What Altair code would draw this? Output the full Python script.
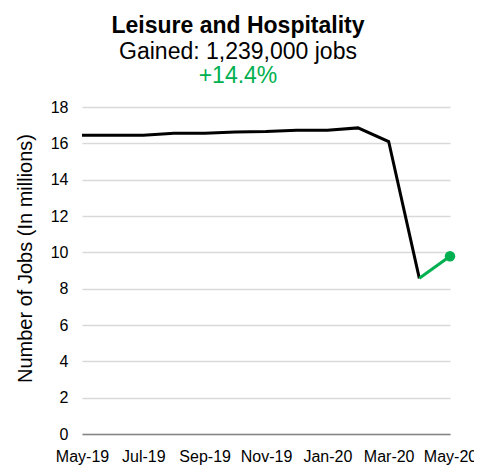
import altair as alt
import pandas as pd

months = ["May-19", "Jun-19", "Jul-19", "Aug-19", "Sep-19", "Oct-19", "Nov-19",
          "Dec-19", "Jan-20", "Feb-20", "Mar-20", "Apr-20", "May-20"]
jobs = [16.45, 16.45, 16.45, 16.55, 16.55, 16.63, 16.65, 16.72, 16.72, 16.85, 16.10, 8.57, 9.78]
tick_months = ["May-19", "Jul-19", "Sep-19", "Nov-19", "Jan-20", "Mar-20", "May-20"]
y_ticks = [0, 2, 4, 6, 8, 10, 12, 14, 16, 18]

title_text = "Leisure and Hospitality"
subtitle_text = "Gained: 1,239,000 jobs"
pct_text = "+14.4%"

GREEN = "#00B050"
FONT = "Liberation Sans"

rows = []
for i, (m, v) in enumerate(zip(months, jobs)):
    if i <= len(months) - 2:
        rows.append({"month": m, "jobs": v, "series": "base", "idx": i})
    if i >= len(months) - 2:
        rows.append({"month": m, "jobs": v, "series": "gain", "idx": i})
df = pd.DataFrame(rows)
last = pd.DataFrame({"month": [months[-1]], "jobs": [jobs[-1]]})

x_enc = alt.X("month:O", sort=months, title=None,
              scale=alt.Scale(type="point", padding=0),
              axis=alt.Axis(values=tick_months, labelAngle=0, ticks=False,
                            domainColor="#868686", domainWidth=1.3,
                            labelPadding=14, labelFontSize=16, labelColor="black",
                            labelOverlap=False, grid=False))
y_enc = alt.Y("jobs:Q", title="Number of Jobs (In millions)",
              scale=alt.Scale(domain=[0, 18], nice=False),
              axis=alt.Axis(values=y_ticks, tickCount=10, ticks=False, domain=False,
                            labelFontSize=16, labelColor="black", labelPadding=14,
                            labelOverlap=False, labelBound=False,
                            titleFontSize=20, titleFontWeight="normal", titleColor="black",
                            titlePadding=15, titleY=151, gridColor="#d9d9d9", gridWidth=1.3))

line = alt.Chart(df).mark_line(strokeWidth=3).encode(
    x=x_enc, y=y_enc,
    color=alt.Color("series:N", scale=alt.Scale(domain=["base", "gain"], range=["black", GREEN]), legend=None),
    detail="series:N",
    order="idx:Q",
)
dot = alt.Chart(last).mark_circle(size=110, color=GREEN, opacity=1).encode(
    x=x_enc, y=y_enc
)
pct = alt.Chart(pd.DataFrame({"t": [pct_text]})).mark_text(
    fontSize=23, color=GREEN, font=FONT, align="center", baseline="alphabetic"
).encode(text="t:N", x=alt.value(156), y=alt.value(-24))

chart = alt.layer(line, dot, pct).properties(
    width=368, height=327,
    title=alt.Title(title_text, subtitle=subtitle_text, fontSize=23, fontWeight="bold",
                    subtitleFontSize=23, subtitleColor="black", color="black",
                    anchor="middle", frame="group", dx=-28, offset=1,
                    font=FONT, subtitleFont=FONT, subtitlePadding=3),
    autosize=alt.AutoSizeParams(type="none"),
    padding={"left": 74, "top": 99, "right": 24, "bottom": 34},
).configure_view(stroke=None).configure_axis(labelFont=FONT, titleFont=FONT)

chart.save("out.html", embed_options={"renderer": "svg", "actions": False})
